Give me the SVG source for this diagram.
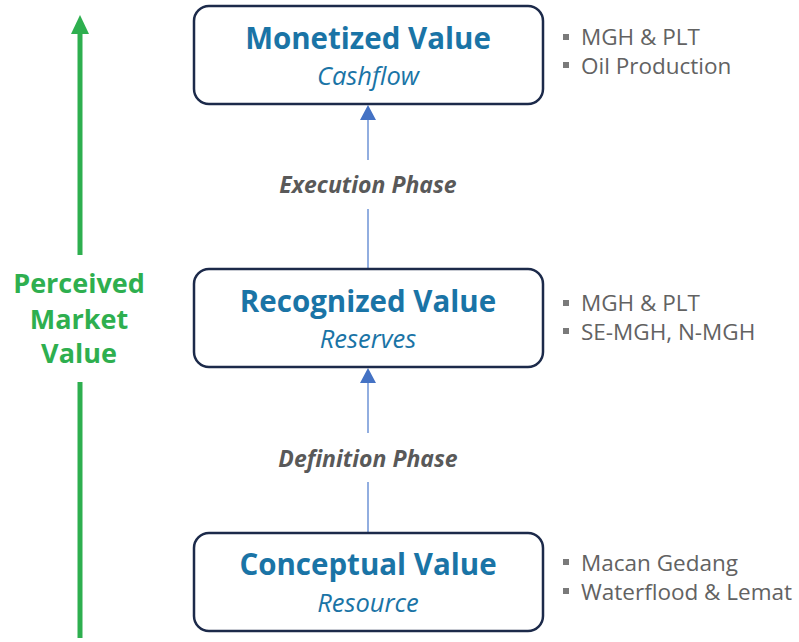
<svg xmlns="http://www.w3.org/2000/svg" width="799" height="642" viewBox="0 0 799 642">
<style>
.box{fill:#fff;stroke:#1c2a4a;stroke-width:2.5}
.title{font-family:"Open Sans","Noto Sans",sans-serif;font-weight:700;font-size:29.5px;fill:#1a74a6;text-anchor:middle}
.sub{font-family:"Open Sans","Noto Sans",sans-serif;font-style:italic;font-size:25.5px;fill:#1a74a6;text-anchor:middle}
.note{font-family:"Open Sans","Noto Sans",sans-serif;font-size:22.5px;fill:#626262}
.bul{fill:#7a7a7a}
.phase{font-family:"Open Sans","Noto Sans",sans-serif;font-weight:700;font-style:italic;font-size:23px;fill:#595959;text-anchor:middle}
.green{font-family:"Open Sans","Noto Sans",sans-serif;font-weight:700;font-size:27px;fill:#2eaf4f;text-anchor:middle}
.conn{stroke:#6e93d6;stroke-width:1.5;fill:none}
.head{fill:#4472c4}
</style>
<g id="connectors">
<line class="conn" x1="368" y1="118" x2="368" y2="160"/>
<path class="head" d="M368,105 L360,120 L376,120 Z"/>
<line class="conn" x1="368" y1="209" x2="368" y2="268"/>
<line class="conn" x1="368" y1="381" x2="368" y2="433"/>
<path class="head" d="M368,368 L360,383 L376,383 Z"/>
<line class="conn" x1="368" y1="482" x2="368" y2="533"/>
<text class="phase" x="368" y="193">Execution Phase</text>
<text class="phase" x="368" y="467">Definition Phase</text>
</g>
<g id="market-arrow">
<line x1="80" y1="32" x2="80" y2="255" stroke="#2eaf4f" stroke-width="5"/>
<path d="M80,15 L71,34 L89,34 Z" fill="#2eaf4f"/>
<line x1="80" y1="382" x2="80" y2="638" stroke="#2eaf4f" stroke-width="5"/>
<text class="green" x="79" y="293">Perceived</text>
<text class="green" x="79" y="329">Market</text>
<text class="green" x="79" y="363">Value</text>
</g>
<g id="monetized">
<rect class="box" x="194" y="6" width="349" height="98" rx="15"/>
<text class="title" x="368" y="49">Monetized Value</text>
<text class="sub" x="368" y="85">Cashflow</text>
</g>
<g id="recognized">
<rect class="box" x="194" y="269" width="349" height="98" rx="15"/>
<text class="title" x="368" y="312">Recognized Value</text>
<text class="sub" x="368" y="348">Reserves</text>
</g>
<g id="conceptual">
<rect class="box" x="194" y="533" width="349" height="98" rx="15"/>
<text class="title" x="368" y="575">Conceptual Value</text>
<text class="sub" x="368" y="611.5">Resource</text>
</g>
<g id="notes-monetized">
<rect class="bul" x="563" y="34" width="6" height="6"/>
<text class="note" x="581" y="45">MGH &amp; PLT</text>
<rect class="bul" x="563" y="62" width="6" height="6"/>
<text class="note" x="581" y="74">Oil Production</text>
</g>
<g id="notes-recognized">
<rect class="bul" x="563" y="300" width="6" height="6"/>
<text class="note" x="581" y="311">MGH &amp; PLT</text>
<rect class="bul" x="563" y="328" width="6" height="6"/>
<text class="note" x="581" y="340">SE-MGH, N-MGH</text>
</g>
<g id="notes-conceptual">
<rect class="bul" x="563" y="559" width="6" height="6"/>
<text class="note" x="581" y="571">Macan Gedang</text>
<rect class="bul" x="563" y="588" width="6" height="6"/>
<text class="note" x="581" y="600">Waterflood &amp; Lemat</text>
</g>
</svg>
